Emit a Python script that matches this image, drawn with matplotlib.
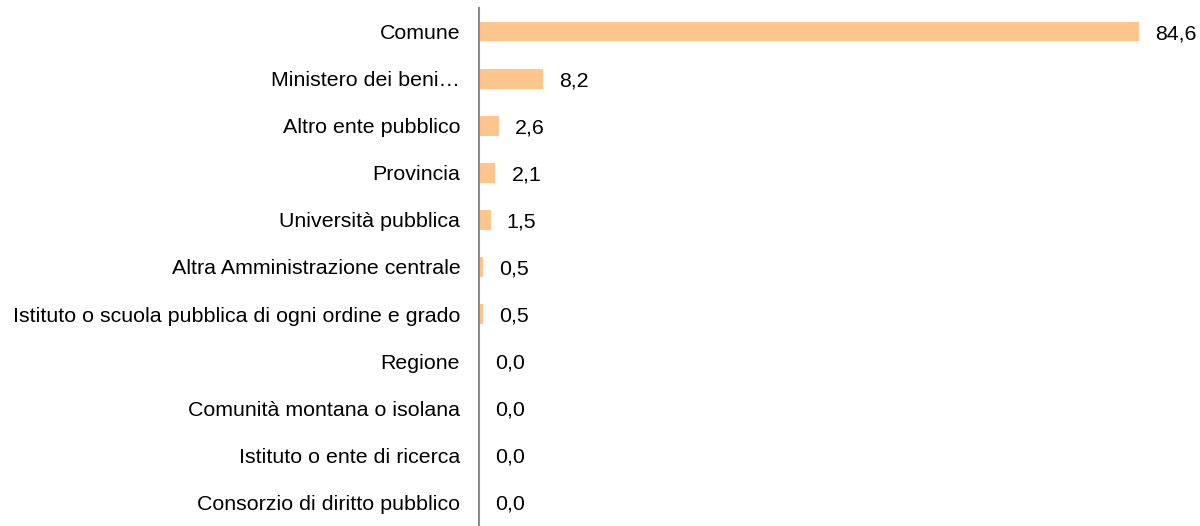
import matplotlib
matplotlib.use("Agg")
import matplotlib.pyplot as plt

categories = [
    "Comune",
    "Ministero dei beni…",
    "Altro ente pubblico",
    "Provincia",
    "Università pubblica",
    "Altra Amministrazione centrale",
    "Istituto o scuola pubblica di ogni ordine e grado",
    "Regione",
    "Comunità montana o isolana",
    "Istituto o ente di ricerca",
    "Consorzio di diritto pubblico",
]
values = [84.6, 8.2, 2.6, 2.1, 1.5, 0.5, 0.5, 0.0, 0.0, 0.0, 0.0]

plt.rcParams["font.family"] = ["Liberation Sans", "DejaVu Sans"]

fig = plt.figure(figsize=(12, 5.26), dpi=100)
ax = fig.add_axes([479 / 1200, 0.0, (1139 - 479) / 1200, 1 - 8 / 526])

ypos = list(range(len(categories)))
ax.barh(ypos, values, height=0.42, color="#FFC58C")
ax.set_xlim(0, 84.6)
ax.set_ylim(len(categories) - 0.5, -0.5)

for y, v in zip(ypos, values):
    ax.annotate(f"{v:.1f}".replace(".", ","), (v, y), xytext=(16, -2),
                textcoords="offset pixels", va="center", ha="left", fontsize=15.4)

ax.set_yticks(ypos)
ax.set_yticklabels(categories, fontsize=15.4)
ax.tick_params(axis="y", length=0, pad=13.5)
ax.set_xticks([])
for side in ["top", "right", "bottom"]:
    ax.spines[side].set_visible(False)
ax.spines["left"].set_color("#8c8c8c")
ax.spines["left"].set_linewidth(1.5)

fig.savefig("out.png", dpi=100)
